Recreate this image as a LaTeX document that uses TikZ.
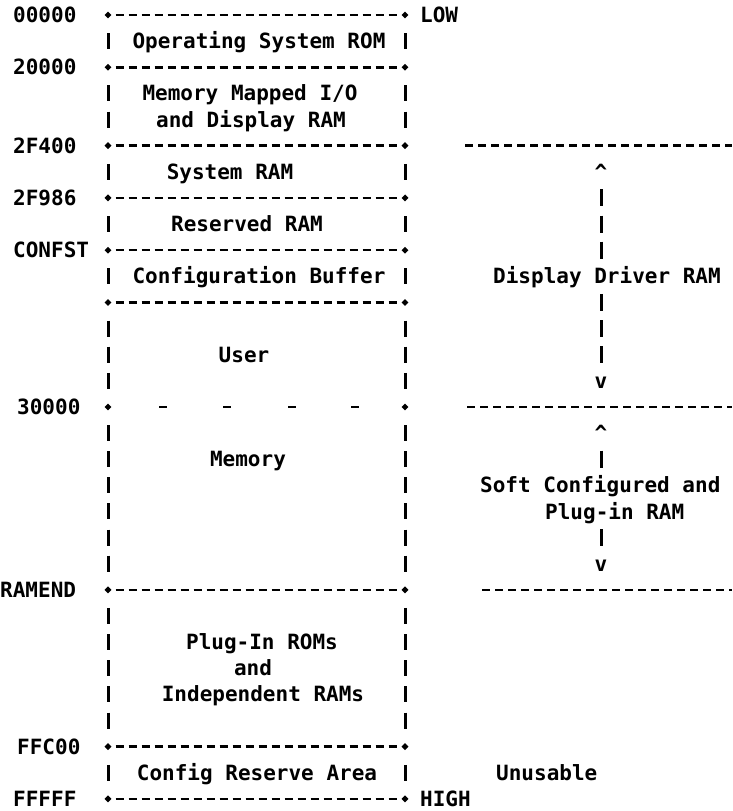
\documentclass[tikz,border=0pt]{standalone}
\usepackage{fontspec}
\setmonofont{DejaVu Sans Mono}
\usetikzlibrary{shapes.geometric}
\newcommand\RY[1]{15+26.13*#1}
\newcommand\lbl[5]{\node[txt,anchor=#4] (#1) at (#2,{\RY{#3}+7.6}) {#5};}
\begin{document}
\begin{tikzpicture}[x=1pt,y=-1pt,
  txt/.style={font=\ttfamily\bfseries\fontsize{21}{25}\selectfont, inner sep=0pt},
  corner/.style={diamond, fill=black, inner sep=0pt, minimum size=7pt},
  hline/.style={line width=2.6pt, dash pattern=on 8pt off 5pt, shorten <=4pt, shorten >=4pt},
  rline/.style={line width=2.6pt, dash pattern=on 8pt off 5pt},
  vbar/.style={line width=3pt}]
\useasboundingbox (0,0) rectangle (732,811);
\def\L{108}
\def\R{405}
% corners and horizontal borders
\foreach \r in {0,2,5,7,9,11,15,22,28,30}{
  \node[corner] (bl\r) at (\L,{\RY{\r}}) {};
  \node[corner] (br\r) at (\R,{\RY{\r}}) {};
}
\foreach \r in {0,2,5,7,9,11,22,28,30}{
  \draw[hline] (bl\r) -- (br\r);
}
% sparse line at 30000
\foreach \x in {163,227,292,355}{
  \draw[vbar,line width=2.6pt] (\x-4,{\RY{15}}) -- (\x+4,{\RY{15}});
}
% vertical bars of the box
\foreach \r in {1,3,4,6,8,10,12,13,14,16,17,18,19,20,21,23,24,25,26,27,29}{
  \draw[vbar] (\L,{\RY{\r}-8}) -- (\L,{\RY{\r}+8});
  \draw[vbar] (\R,{\RY{\r}-8}) -- (\R,{\RY{\r}+8});
}
% address labels
\lbl{a0}{13}{0}{base west}{00000}
\lbl{a1}{13}{2}{base west}{20000}
\lbl{a2}{13}{5}{base west}{2F400}
\lbl{a3}{13}{7}{base west}{2F986}
\lbl{a4}{13}{9}{base west}{CONFST}
\lbl{a5}{17}{15}{base west}{30000}
\lbl{a6}{0}{22}{base west}{RAMEND}
\lbl{a7}{17}{28}{base west}{FFC00}
\lbl{a8}{13}{30}{base west}{FFFFF}
\lbl{low}{420}{0}{base west}{LOW}
\lbl{high}{420}{30}{base west}{HIGH}
% region texts
\lbl{t1}{259}{1}{base}{Operating System ROM}
\lbl{t2}{250}{3}{base}{Memory Mapped I/O}
\lbl{t3}{251}{4}{base}{and Display RAM}
\lbl{t4}{230}{6}{base}{System RAM}
\lbl{t5}{247}{8}{base}{Reserved RAM}
\lbl{t6}{259}{10}{base}{Configuration Buffer}
\lbl{t7}{244}{13}{base}{User}
\lbl{t8}{248}{17}{base}{Memory}
\lbl{t9}{262}{24}{base}{Plug-In ROMs}
\lbl{t10}{253}{25}{base}{and}
\lbl{t11}{263}{26}{base}{Independent RAMs}
\lbl{t12}{257}{29}{base}{Config Reserve Area}
% right column
\coordinate (rl5) at (465,{\RY{5}});
\coordinate (rr5) at (732,{\RY{5}});
\coordinate (rl15) at (467,{\RY{15}});
\coordinate (rr15) at (732,{\RY{15}});
\coordinate (rl22) at (482,{\RY{22}});
\coordinate (rr22) at (732,{\RY{22}});
\draw[rline] (rl5) -- (rr5);
\draw[rline] (rl15) -- (rr15);
\draw[rline] (rl22) -- (rr22);
\def\AX{601}
\lbl{up1}{\AX}{6}{base}{\^{}}
\foreach \r in {7,8,9,11,12,13}{
  \draw[vbar] (\AX,{\RY{\r}-8.5}) -- (\AX,{\RY{\r}+8.5});
}
\lbl{dn1}{\AX}{14}{base}{v}
\lbl{ddr}{493}{10}{base west}{Display Driver RAM}
\lbl{up2}{\AX}{16}{base}{\^{}}
\foreach \r in {17,20}{
  \draw[vbar] (\AX,{\RY{\r}-8.5}) -- (\AX,{\RY{\r}+8.5});
}
\lbl{dn2}{\AX}{21}{base}{v}
\lbl{sc1}{480}{18}{base west}{Soft Configured and}
\lbl{sc2}{545}{19}{base west}{Plug-in RAM}
\lbl{unu}{496}{29}{base west}{Unusable}
\end{tikzpicture}
\end{document}
